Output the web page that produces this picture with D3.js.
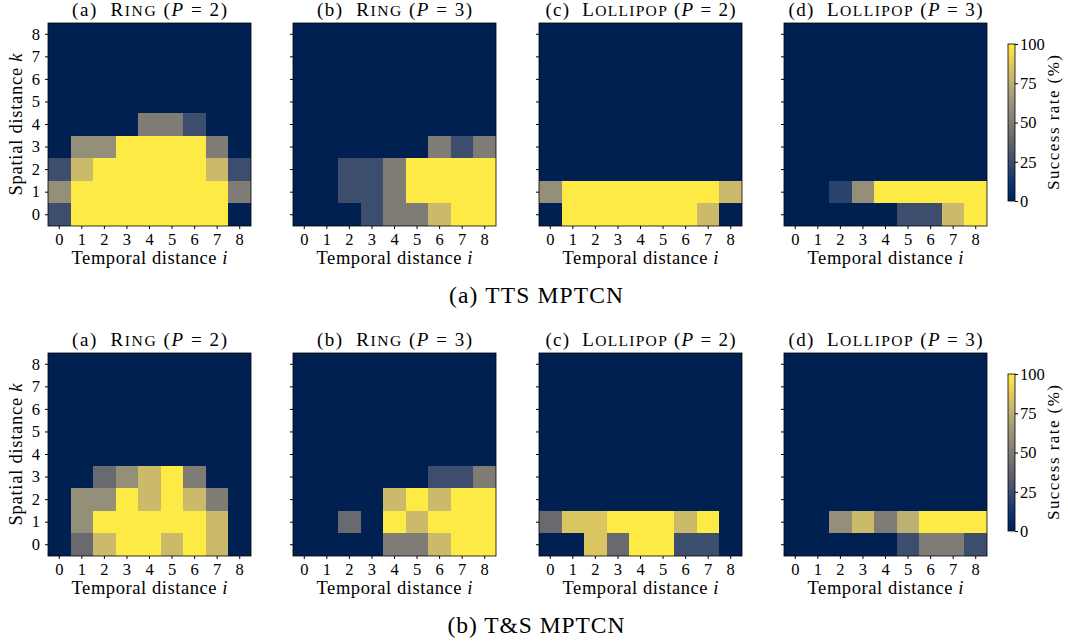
<!DOCTYPE html>
<html>
<head>
<meta charset="utf-8">
<script src="https://cdn.jsdelivr.net/npm/d3@7"></script>
<style>
  body { margin: 0; background: #fff; }
  text { font-family: "Liberation Serif", "DejaVu Serif", serif; fill: #000; }
  .domain { display: none; }
</style>
</head>
<body>
<script>
// success rate (%) per cell, rows are spatial distance k = 0..8, columns temporal distance i = 0..8
const ttsRingP2 = [
  [25, 100, 100, 100, 100, 100, 100, 100, 0],
  [60, 100, 100, 100, 100, 100, 100, 100, 50],
  [25, 80, 100, 100, 100, 100, 100, 80, 25],
  [0, 60, 60, 100, 100, 100, 100, 50, 0],
  [0, 0, 0, 0, 50, 50, 25, 0, 0],
  [0, 0, 0, 0, 0, 0, 0, 0, 0],
  [0, 0, 0, 0, 0, 0, 0, 0, 0],
  [0, 0, 0, 0, 0, 0, 0, 0, 0],
  [0, 0, 0, 0, 0, 0, 0, 0, 0]
];
const ttsRingP3 = [
  [0, 0, 0, 25, 50, 50, 80, 100, 100],
  [0, 0, 25, 25, 50, 100, 100, 100, 100],
  [0, 0, 25, 25, 50, 100, 100, 100, 100],
  [0, 0, 0, 0, 0, 0, 50, 25, 50],
  [0, 0, 0, 0, 0, 0, 0, 0, 0],
  [0, 0, 0, 0, 0, 0, 0, 0, 0],
  [0, 0, 0, 0, 0, 0, 0, 0, 0],
  [0, 0, 0, 0, 0, 0, 0, 0, 0],
  [0, 0, 0, 0, 0, 0, 0, 0, 0]
];
const ttsLollipopP2 = [
  [0, 100, 100, 100, 100, 100, 100, 80, 0],
  [60, 100, 100, 100, 100, 100, 100, 100, 80],
  [0, 0, 0, 0, 0, 0, 0, 0, 0],
  [0, 0, 0, 0, 0, 0, 0, 0, 0],
  [0, 0, 0, 0, 0, 0, 0, 0, 0],
  [0, 0, 0, 0, 0, 0, 0, 0, 0],
  [0, 0, 0, 0, 0, 0, 0, 0, 0],
  [0, 0, 0, 0, 0, 0, 0, 0, 0],
  [0, 0, 0, 0, 0, 0, 0, 0, 0]
];
const ttsLollipopP3 = [
  [0, 0, 0, 0, 0, 25, 25, 80, 100],
  [0, 0, 20, 60, 100, 100, 100, 100, 100],
  [0, 0, 0, 0, 0, 0, 0, 0, 0],
  [0, 0, 0, 0, 0, 0, 0, 0, 0],
  [0, 0, 0, 0, 0, 0, 0, 0, 0],
  [0, 0, 0, 0, 0, 0, 0, 0, 0],
  [0, 0, 0, 0, 0, 0, 0, 0, 0],
  [0, 0, 0, 0, 0, 0, 0, 0, 0],
  [0, 0, 0, 0, 0, 0, 0, 0, 0]
];
const tsRingP2 = [
  [0, 40, 80, 100, 100, 80, 100, 80, 0],
  [0, 60, 100, 100, 100, 100, 100, 80, 0],
  [0, 60, 60, 100, 80, 100, 80, 50, 0],
  [0, 0, 40, 60, 80, 100, 50, 0, 0],
  [0, 0, 0, 0, 0, 0, 0, 0, 0],
  [0, 0, 0, 0, 0, 0, 0, 0, 0],
  [0, 0, 0, 0, 0, 0, 0, 0, 0],
  [0, 0, 0, 0, 0, 0, 0, 0, 0],
  [0, 0, 0, 0, 0, 0, 0, 0, 0]
];
const tsRingP3 = [
  [0, 0, 0, 0, 50, 50, 80, 100, 100],
  [0, 0, 40, 0, 100, 80, 100, 100, 100],
  [0, 0, 0, 0, 80, 100, 80, 100, 100],
  [0, 0, 0, 0, 0, 0, 25, 25, 50],
  [0, 0, 0, 0, 0, 0, 0, 0, 0],
  [0, 0, 0, 0, 0, 0, 0, 0, 0],
  [0, 0, 0, 0, 0, 0, 0, 0, 0],
  [0, 0, 0, 0, 0, 0, 0, 0, 0],
  [0, 0, 0, 0, 0, 0, 0, 0, 0]
];
const tsLollipopP2 = [
  [0, 0, 85, 40, 100, 100, 25, 25, 0],
  [40, 85, 85, 100, 100, 100, 80, 100, 0],
  [0, 0, 0, 0, 0, 0, 0, 0, 0],
  [0, 0, 0, 0, 0, 0, 0, 0, 0],
  [0, 0, 0, 0, 0, 0, 0, 0, 0],
  [0, 0, 0, 0, 0, 0, 0, 0, 0],
  [0, 0, 0, 0, 0, 0, 0, 0, 0],
  [0, 0, 0, 0, 0, 0, 0, 0, 0],
  [0, 0, 0, 0, 0, 0, 0, 0, 0]
];
const tsLollipopP3 = [
  [0, 0, 0, 0, 0, 25, 50, 50, 25],
  [0, 0, 60, 80, 50, 75, 100, 100, 100],
  [0, 0, 0, 0, 0, 0, 0, 0, 0],
  [0, 0, 0, 0, 0, 0, 0, 0, 0],
  [0, 0, 0, 0, 0, 0, 0, 0, 0],
  [0, 0, 0, 0, 0, 0, 0, 0, 0],
  [0, 0, 0, 0, 0, 0, 0, 0, 0],
  [0, 0, 0, 0, 0, 0, 0, 0, 0],
  [0, 0, 0, 0, 0, 0, 0, 0, 0]
];

const distances = [0, 1, 2, 3, 4, 5, 6, 7, 8];
const panelTags = ["(a)", "(b)", "(c)", "(d)"];
const panelGraphs = ["Ring", "Ring", "Lollipop", "Lollipop"];
const panelP = [2, 3, 2, 3];
const rowCaptions = ["(a) TTS MPTCN", "(b) T&S MPTCN"];
const rowGrids = [
  [ttsRingP2, ttsRingP3, ttsLollipopP2, ttsLollipopP3],
  [tsRingP2, tsRingP3, tsLollipopP2, tsLollipopP3]
];
const colorbarTicks = [0, 25, 50, 75, 100];

const W = 1068, H = 644;
const size = 203;
const lefts = [48, 293, 539, 784];
const tops = [23, 353];
const titleWidths = [155, 155, 190, 194];

const svg = d3.select("body").append("svg")
  .attr("width", W)
  .attr("height", H);

const color = d3.scaleSequential(d3.interpolateCividis).domain([0, 100]);

const x = d3.scaleBand().domain(distances).range([0, size]);
const y = d3.scaleBand().domain(distances).range([size, 0]);

// gradient for the colorbar
const grad = svg.append("defs").append("linearGradient")
  .attr("id", "cbar")
  .attr("x1", 0).attr("y1", 1).attr("x2", 0).attr("y2", 0);
grad.selectAll("stop")
  .data(d3.range(0, 1.0001, 0.05))
  .enter().append("stop")
  .attr("offset", d => d)
  .attr("stop-color", d => color(d * 100));

function smallCapsTitle(sel, tag, name, p) {
  sel.append("tspan").text(tag + "\u00a0\u00a0");
  sel.append("tspan").text(name[0]);
  sel.append("tspan").attr("font-size", "0.82em").text(name.slice(1).toUpperCase());
  sel.append("tspan").text(" (");
  sel.append("tspan").attr("font-style", "italic").text("P");
  sel.append("tspan").text(" = " + p + ")");
}

rowGrids.forEach((grids, r) => {
  const top = tops[r];

  grids.forEach((grid, c) => {
    const g = svg.append("g")
      .attr("transform", `translate(${lefts[c]},${top})`);

    const cells = [];
    grid.forEach((row, k) => row.forEach((v, i) => cells.push({ i, k, v })));

    g.selectAll(".cell")
      .data(cells)
      .enter().append("rect")
      .attr("class", "cell")
      .attr("x", d => x(d.i))
      .attr("y", d => y(d.k))
      .attr("width", x.bandwidth())
      .attr("height", y.bandwidth())
      .attr("fill", d => color(d.v))
      .attr("shape-rendering", "crispEdges");

    g.append("rect")
      .attr("width", size)
      .attr("height", size)
      .attr("fill", "none")
      .attr("stroke", "#000")
      .attr("stroke-width", 0.8);

    const xAxis = g.append("g")
      .attr("transform", `translate(0,${size})`)
      .call(d3.axisBottom(x).tickSize(3).tickPadding(4));
    xAxis.selectAll("text").attr("font-size", 16.5).style("font-family", "Liberation Serif");

    const yAxis = g.append("g")
      .call(d3.axisLeft(y).tickSize(3).tickPadding(5)
        .tickFormat(c === 0 ? d => d : ""));
    yAxis.selectAll("text").attr("font-size", 16.5).style("font-family", "Liberation Serif");

    g.append("text")
      .attr("x", size / 2)
      .attr("y", size + 38)
      .attr("text-anchor", "middle")
      .attr("font-size", 18.5)
      .attr("textLength", 156)
      .attr("lengthAdjust", "spacing")
      .call(t => {
        t.append("tspan").text("Temporal distance ");
        t.append("tspan").attr("font-style", "italic").text("i");
      });

    g.append("text")
      .attr("x", size / 2)
      .attr("y", -7)
      .attr("text-anchor", "middle")
      .attr("font-size", 19)
      .attr("textLength", titleWidths[c])
      .attr("lengthAdjust", "spacing")
      .call(t => smallCapsTitle(t, panelTags[c], panelGraphs[c], panelP[c]));

    if (c === 0) {
      g.append("text")
        .attr("transform", `translate(${-26},${size / 2}) rotate(-90)`)
        .attr("text-anchor", "middle")
        .attr("font-size", 18.5)
        .attr("textLength", 142)
        .attr("lengthAdjust", "spacing")
        .call(t => {
          t.append("tspan").text("Spatial distance ");
          t.append("tspan").attr("font-style", "italic").text("k");
        });
    }
  });

  // colorbar
  const cbH = 157, cbW = 7;
  const cb = svg.append("g")
    .attr("transform", `translate(1008,${top + 21})`);
  cb.append("rect")
    .attr("width", cbW)
    .attr("height", cbH)
    .attr("fill", "url(#cbar)")
    .attr("stroke", "#000")
    .attr("stroke-width", 0.8);
  const cbScale = d3.scaleLinear().domain([0, 100]).range([cbH, 0]);
  const cbAxis = cb.append("g")
    .attr("transform", `translate(${cbW},0)`)
    .call(d3.axisRight(cbScale).tickValues(colorbarTicks).tickSize(3).tickPadding(2));
  cbAxis.selectAll("text").attr("font-size", 16.5).style("font-family", "Liberation Serif");
  cb.append("text")
    .attr("transform", `translate(${51},${cbH / 2}) rotate(-90)`)
    .attr("text-anchor", "middle")
    .attr("font-size", 17)
    .attr("textLength", 135)
    .attr("lengthAdjust", "spacing")
    .text("Success rate (%)");

  svg.append("text")
    .attr("x", 536)
    .attr("y", top + 280)
    .attr("text-anchor", "middle")
    .attr("font-size", 23.5)
    .attr("textLength", r === 0 ? 174 : 177)
    .attr("lengthAdjust", "spacing")
    .text(rowCaptions[r]);
});
</script>
</body>
</html>
